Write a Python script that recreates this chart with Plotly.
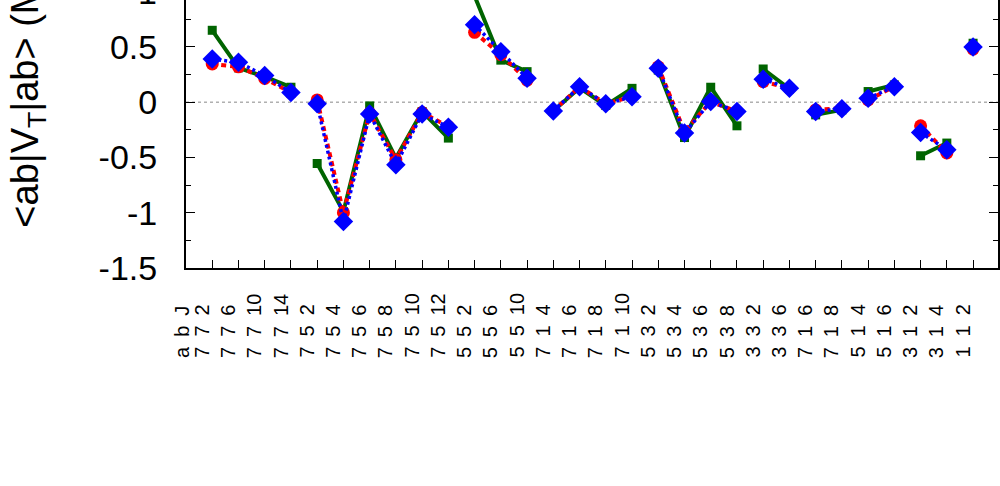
import plotly.graph_objects as go

# ---- data ----
x_labels = ["7 7 2", "7 7 6", "7 7 10", "7 7 14",
            "7 5 2", "7 5 4", "7 5 6", "7 5 8", "7 5 10", "7 5 12",
            "5 5 2", "5 5 6", "5 5 10",
            "7 1 4", "7 1 6", "7 1 8", "7 1 10",
            "5 3 2", "5 3 4", "5 3 6", "5 3 8",
            "3 3 2", "3 3 6",
            "7 1 6", "7 1 8",
            "5 1 4", "5 1 6",
            "3 1 2", "3 1 4",
            "1 1 2"]
header_label = "a b J"
groups = [1, 1, 1, 1, 2, 2, 2, 2, 2, 2, 3, 3, 3, 4, 4, 4, 4,
          5, 5, 5, 5, 6, 6, 7, 7, 8, 8, 9, 9, 10]

green_vals = [0.65, 0.31, 0.23, 0.135,
              -0.555, -0.99, -0.034, -0.506, -0.085, -0.325,
              0.96, 0.38, 0.276,
              -0.08, 0.13, -0.03, 0.125,
              0.29, -0.32, 0.135, -0.214,
              0.30, 0.12,
              -0.115, -0.07,
              0.096, 0.156,
              -0.485, -0.37,
              0.533]
red_vals = [0.345, 0.32, 0.215, 0.087,
            0.02, -1.0, -0.1, -0.52, -0.094, -0.22,
            0.632, 0.43, 0.2,
            -0.08, 0.14, -0.015, 0.05,
            0.32, -0.265, 0.005, -0.085,
            0.186, 0.126,
            -0.07, -0.055,
            0.02, 0.14,
            -0.214, -0.46,
            0.48]
blue_vals = [0.39, 0.36, 0.24, 0.087,
             -0.015, -1.08, -0.108, -0.566, -0.108, -0.226,
             0.70, 0.457, 0.217,
             -0.08, 0.14, -0.015, 0.05,
             0.307, -0.28, 0.005, -0.085,
             0.207, 0.126,
             -0.085, -0.06,
             0.036, 0.14,
             -0.275, -0.43,
             0.50]

y_tickvals = [-1.5, -1, -0.5, 0, 0.5]
y_ticktext = ["-1.5", "-1", "-0.5", "0", "0.5"]
y_title = "&lt;ab|V<sub>T</sub>|ab&gt; (MeV)"

FONT = "Liberation Sans, Arial, sans-serif"
GREEN = "#006400"


def with_gaps(vals):
    xs, ys = [], []
    for i, v in enumerate(vals):
        if i > 0 and groups[i] != groups[i - 1]:
            xs.append(None)
            ys.append(None)
        xs.append(i + 1)
        ys.append(v)
    return xs, ys


fig = go.Figure()

gx, gy = with_gaps(green_vals)
fig.add_trace(go.Scatter(x=gx, y=gy, mode="lines+markers",
                         line=dict(color=GREEN, width=4),
                         marker=dict(symbol="square", size=9, color=GREEN),
                         cliponaxis=False, showlegend=False))
rx, ry = with_gaps(red_vals)
fig.add_trace(go.Scatter(x=rx, y=ry, mode="lines+markers",
                         line=dict(color="#ff0000", width=4, dash="5px,4px"),
                         marker=dict(symbol="circle", size=13, color="#ff0000"),
                         cliponaxis=False, showlegend=False))
bx, by = with_gaps(blue_vals)
fig.add_trace(go.Scatter(x=bx, y=by, mode="lines+markers",
                         line=dict(color="#0000ff", width=3.5, dash="3px,3px"),
                         marker=dict(symbol="diamond", size=15, color="#0000ff"),
                         cliponaxis=False, showlegend=False))

# dotted zero line
fig.add_shape(type="line", xref="paper", yref="y", x0=0, x1=1, y0=0, y1=0,
              line=dict(color="#888888", width=1, dash="dot"), layer="below")

annotations = []
# x category labels, start-aligned at the bottom
for i, lab in enumerate(x_labels):
    annotations.append(dict(x=i + 1, y=-0.343, xref="x", yref="paper",
                            text=lab.replace(" ", "\u2002"), textangle=-90,
                            xanchor="center", yanchor="bottom", xshift=-10,
                            showarrow=False,
                            font=dict(family=FONT, size=20, color="black")))
annotations.append(dict(x=0, y=-0.343, xref="x", yref="paper",
                        text=header_label.replace(" ", "\u2002"), textangle=-90,
                        xanchor="center", yanchor="bottom", xshift=-4,
                        showarrow=False,
                        font=dict(family=FONT, size=20, color="black")))
# y axis title (partly cut off at the top, like the original)
annotations.append(dict(x=-0.195, y=0.1418, xref="paper", yref="paper",
                        text=y_title, textangle=-90,
                        xanchor="center", yanchor="bottom", showarrow=False,
                        font=dict(family=FONT, size=38, color="black")))
# partly visible "1" tick label above the top edge
annotations.append(dict(x=-0.033, y=1.0313, xref="paper", yref="paper",
                        text="1", xanchor="right", yanchor="middle",
                        showarrow=False,
                        font=dict(family=FONT, size=34, color="black")))

fig.update_layout(
    width=1000, height=486,
    margin=dict(l=186, r=2, t=0, b=218),
    paper_bgcolor="white", plot_bgcolor="white",
    font=dict(family=FONT, color="black"),
    annotations=annotations,
    xaxis=dict(range=[0, 30.95], tickmode="array",
               tickvals=list(range(1, len(x_labels) + 1)),
               showticklabels=False, ticks="inside", ticklen=8,
               tickwidth=1, tickcolor="black", automargin=False,
               showline=True, linewidth=2, linecolor="black",
               mirror=False, showgrid=False, zeroline=False),
    yaxis=dict(range=[-1.5, 0.924], tickmode="array",
               tickvals=y_tickvals, ticktext=y_ticktext,
               ticks="inside", ticklen=9, tickwidth=1, tickcolor="black",
               tickfont=dict(family=FONT, size=34, color="black"),
               ticklabelstandoff=20, automargin=False,
               minor=dict(tickmode="array",
                          tickvals=[-1.25, -0.75, -0.25, 0.25, 0.75],
                          ticks="inside", ticklen=5, tickwidth=1,
                          tickcolor="black", showgrid=False),
               showline=True, linewidth=2, linecolor="black",
               mirror="allticks", showgrid=False, zeroline=False),
)

fig.write_html("out.html", config={"displayModeBar": False},
               post_script="document.body.style.margin='0px';")
